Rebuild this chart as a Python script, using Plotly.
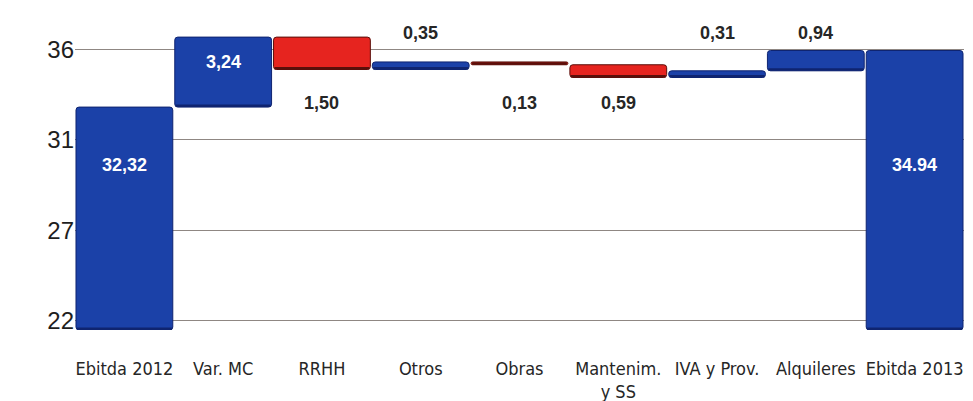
import plotly.graph_objects as go

categories = ["Ebitda 2012", "Var. MC", "RRHH", "Otros", "Obras",
              "Mantenim.<br>y SS", "IVA y Prov.", "Alquileres", "Ebitda 2013"]
values = [32.32, 3.24, -1.50, 0.35, -0.13, -0.59, 0.31, 0.94, 34.94]
measures = ["absolute", "relative", "relative", "relative", "relative",
            "relative", "relative", "relative", "total"]
value_labels = ["32,32", "3,24", "1,50", "0,35", "0,13", "0,59", "0,31", "0,94", "34.94"]
label_rows = ["inside_low", "inside_high", "below", "above", "below",
              "below", "above", "above", "inside_low"]
axis_floor = 22
tick_values = [22.42, 26.6, 30.8, 35.0]
tick_labels = ["22", "27", "31", "36"]

BLUE = "#1b41a8"
RED = "#e6241f"
BLUE_DARK = "#0f2470"
RED_DARK = "#5a0f0a"

bases, heights, colors, edge = [], [], [], []
running = 0.0
for v, m in zip(values, measures):
    if m in ("absolute", "total"):
        running = v
        bases.append(axis_floor)
        heights.append(v - axis_floor)
        colors.append(BLUE)
        edge.append(BLUE_DARK)
    else:
        start = running
        running = running + v
        bases.append(min(start, running))
        heights.append(abs(v))
        colors.append(BLUE if v >= 0 else RED)
        edge.append(BLUE_DARK if v >= 0 else RED_DARK)

x_idx = list(range(len(categories)))

fig = go.Figure()
fig.add_trace(go.Bar(
    x=x_idx, y=heights, base=bases, width=0.98,
    marker=dict(color=colors, line=dict(color=edge, width=1), cornerradius=3),
    hoverinfo="skip", showlegend=False,
))
# dark bottom edge (3D shading)
shadow_h = 0.12
fig.add_trace(go.Bar(
    x=x_idx, y=[shadow_h] * len(x_idx), base=bases, width=0.96,
    marker=dict(color=edge, line=dict(width=0)),
    hoverinfo="skip", showlegend=False,
))

row_y = {"above": 0.949, "below": 0.725, "inside_high": 0.856, "inside_low": 0.527}
for i, (lab, row) in enumerate(zip(value_labels, label_rows)):
    inside = row.startswith("inside")
    fig.add_annotation(
        x=i, y=row_y[row], xref="x", yref="paper", text=lab, showarrow=False,
        xanchor="center", yanchor="middle",
        font=dict(family="Liberation Sans, Arial, sans-serif", size=18,
                  color="white" if inside else "#262626", weight="bold"),
    )

fig.update_layout(
    width=973, height=401,
    margin=dict(l=75, r=9, t=17, b=71),
    plot_bgcolor="white", paper_bgcolor="white",
    barmode="overlay", bargap=0.02,
    xaxis=dict(
        tickmode="array", tickvals=x_idx, ticktext=categories,
        range=[-0.5, len(categories) - 0.5],
        showgrid=False, zeroline=False, showline=False,
        ticks="outside", ticklen=22, tickcolor="rgba(0,0,0,0)",
        tickangle=0, automargin=False,
        tickfont=dict(family="Liberation Sans Narrow, DejaVu Sans Condensed, Roboto, sans-serif",
                      size=18, color="#262626"),
    ),
    yaxis=dict(
        range=[axis_floor, axis_floor + 313 / 21.6],
        tickmode="array", tickvals=tick_values, ticktext=tick_labels,
        showgrid=True, gridcolor="#8f8783", gridwidth=1.2,
        zeroline=False, showline=False, ticks="", ticklen=0, automargin=False,
        tickfont=dict(family="Liberation Sans, Arial, sans-serif", size=24, color="#1e1e1e"),
    ),
)

fig.write_html("out.html", config={"displayModeBar": False},
               post_script="document.body.style.margin='0';document.body.style.overflow='hidden';")
